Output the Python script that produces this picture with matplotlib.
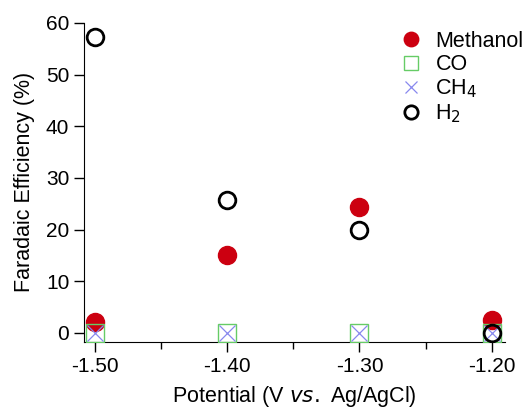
import matplotlib
matplotlib.use("Agg")
import matplotlib.pyplot as plt
from matplotlib.ticker import MultipleLocator

plt.rcParams.update({"font.family": ["Liberation Sans", "DejaVu Sans"], "font.size": 15,
                     "axes.unicode_minus": False})

potential = [-1.50, -1.40, -1.30, -1.20]
methanol = [2.1, 15.1, 24.4, 2.5]
co = [0.0, 0.0, 0.0, 0.0]
ch4 = [0.0, 0.0, 0.0, 0.0]
h2 = [57.3, 25.7, 19.9, 0.0]

fig = plt.figure(figsize=(5.31, 4.15), dpi=100)
ax = fig.add_axes([0.158, 0.176, 0.793, 0.769])

ax.plot(potential, methanol, "o", ms=13, color="#cc0010", mec="#cc0010", label="Methanol", zorder=3)
ax.plot(potential, co, "s", ms=13, mfc="none", mec="#66cc66", mew=1.0, label="CO", zorder=4)
ax.plot(potential, ch4, "x", ms=11, color="#8888ee", mew=0.9, label="CH$_4$", zorder=5)
ax.plot(potential, h2, "o", ms=12, mfc="none", mec="black", mew=2.0, label="H$_2$", zorder=6)

ax.set_xlim(-1.5083, -1.190)
ax.set_ylim(-1.75, 60)
ax.spines["left"].set_bounds(-1.75, 60)
ax.xaxis.set_minor_locator(MultipleLocator(0.05))
ax.yaxis.set_major_locator(MultipleLocator(10))
ax.set_xticks(potential)
ax.set_xticklabels([f"{p:.2f}" for p in potential])
ax.tick_params(which="major", direction="out", length=7, width=1, labelsize=15)
ax.tick_params(which="minor", direction="out", length=5, width=1)
for s in ("top", "right"):
    ax.spines[s].set_visible(False)

ax.set_xlabel("Potential (V $\\it{vs.}$ Ag/AgCl)", fontsize=15.5, labelpad=6)
ax.set_ylabel("Faradaic Efficiency (%)", fontsize=15.5, labelpad=8)
ax.legend(frameon=False, loc="upper right", bbox_to_anchor=(1.09, 1.035), fontsize=15.5,
          handletextpad=0.5, labelspacing=0.1, handlelength=1.3, markerscale=0.8)

fig.savefig("out.png", dpi=100)
